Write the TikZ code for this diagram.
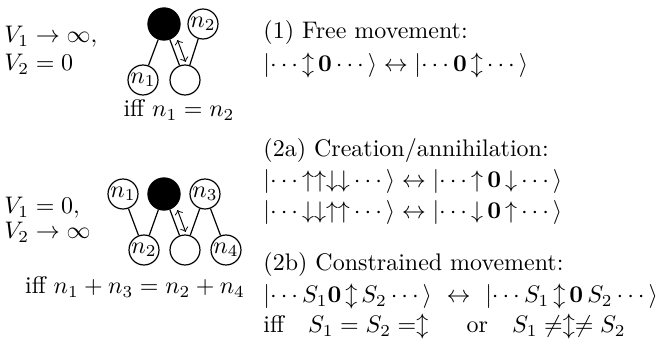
\documentclass[tikz,border=0pt]{standalone}
\usepackage{amsmath}
\usetikzlibrary{calc}
\tikzset{
  site/.style={draw, circle, minimum size=12.5pt, inner sep=0pt, line width=0.5pt},
  hole/.style={site, fill=black, minimum size=13.4pt},
  bond/.style={line width=0.5pt},
  hop/.style={<->, line width=0.4pt},
  txt/.style={anchor=base west, inner sep=0pt},
  cond/.style={anchor=base, inner sep=0pt},
}
\newcommand{\ud}{\updownarrow}
\newcommand{\spud}{\mathord{\updownarrow}}
\newcommand{\spu}{\mathord{\uparrow}}
\newcommand{\spd}{\mathord{\downarrow}}
\newcommand{\zr}{\mathbf{0}}

\begin{document}
\begin{tikzpicture}[x=0.417pt, y=-0.417pt]
  \useasboundingbox (0,0) rectangle (661,340);
  % V1 -> infinity: free movement
  \node[txt] (fv1) at (4,43) {$V_1\to\infty,$};
  \node[txt] (fv2) at (4,71) {$V_2=0$};
  \node[hole] (fb) at (164,24) {};
  \node[site] (f2) at (203,24) {$n_2$};
  \node[site] (f1) at (143,80) {$n_1$};
  \node[site] (fe) at (185,80) {};
  \draw[bond] (fb) -- (f1) (fb) -- (fe) (f2) -- (fe);
  \draw[hop] ($(fb)!0.33!(fe)!2.9pt!90:(fe)$) -- ($(fb)!0.72!(fe)!2.9pt!90:(fe)$);
  \node[cond] (fiff) at (179,117) {iff $n_1=n_2$};
  % V2 -> infinity: constrained
  \node[txt] (cv1) at (4,214) {$V_1=0,$};
  \node[txt] (cv2) at (4,239) {$V_2\to\infty$};
  \node[site] (c1) at (123,194) {$n_1$};
  \node[hole] (cb) at (164,194) {};
  \node[site] (c3) at (205,194) {$n_3$};
  \node[site] (c2) at (144,250) {$n_2$};
  \node[site] (ce) at (185,250) {};
  \node[site] (c4) at (226,250) {$n_4$};
  \draw[bond] (c1) -- (c2) (cb) -- (c2) (cb) -- (ce) (c3) -- (ce) (c3) -- (c4);
  \draw[hop] ($(cb)!0.33!(ce)!2.9pt!90:(ce)$) -- ($(cb)!0.72!(ce)!2.9pt!90:(ce)$);
  \node[cond] (ciff) at (135,294) {iff $n_1+n_3=n_2+n_4$};
  % processes
  \node[txt] (h1) at (263,39) {(1) Free movement:};
  \node[txt] (r1) at (263,72) {$\lvert\cdots\spud\,\zr\cdots\rangle\leftrightarrow\lvert\cdots\zr\,\spud\cdots\rangle$};
  \node[txt] (h2a) at (263,157) {(2a) Creation/annihilation:};
  \node[txt] (r2a) at (263,188) {$\lvert\cdots\spu\spu\spd\spd\cdots\rangle\leftrightarrow\lvert\cdots\spu\,\zr\,\spd\cdots\rangle$};
  \node[txt] (r2b) at (263,219) {$\lvert\cdots\spd\spd\spu\spu\cdots\rangle\leftrightarrow\lvert\cdots\spd\,\zr\,\spu\cdots\rangle$};
  \node[txt] (h2c) at (263,271) {(2b) Constrained movement:};
  \node[txt] (r2c) at (263,303) {$\lvert\cdots S_1\zr\,\spud\,S_2\cdots\rangle\ \leftrightarrow\ \lvert\cdots S_1\,\spud\,\zr\,S_2\cdots\rangle$};
  \node[txt] (r2d) at (263,333) {iff\quad $S_1=S_2=\ud$\hspace{1.6em}or\quad $S_1\neq\ud\neq S_2$};
\end{tikzpicture}
\end{document}
